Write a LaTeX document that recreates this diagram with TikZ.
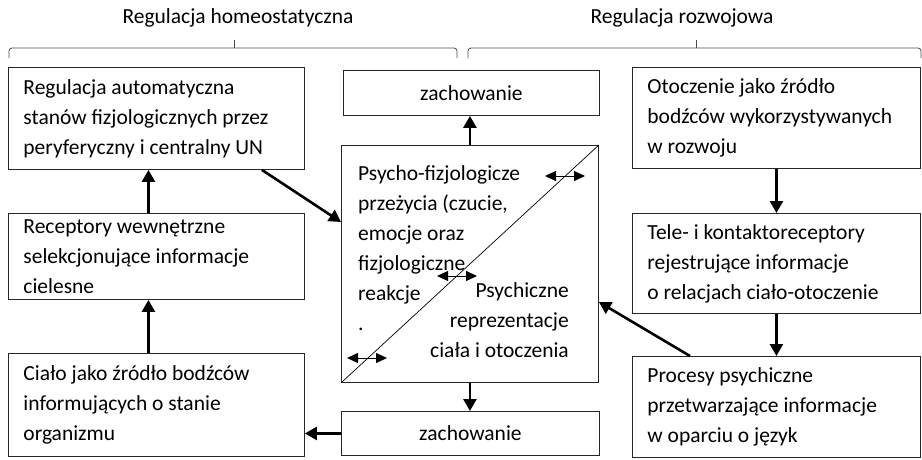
\documentclass[tikz,border=0pt]{standalone}
\usepackage{fontspec}
\setmainfont{Carlito}
\usetikzlibrary{arrows.meta,calc}
\begin{document}
\begin{tikzpicture}[x=1pt,y=-1pt,
  every node/.style={font=\fontsize{21.5pt}{30pt}\selectfont},
  box/.style={draw=black!85, line width=0.9pt, anchor=north west, inner xsep=15pt, inner ysep=0pt, align=flush left},
  actbox/.style={draw=black!85, line width=0.9pt, anchor=north west, inner sep=0pt, align=center},
  flow/.style={line width=2.6pt, -{Triangle[length=12pt,width=13pt]}},
  link/.style={line width=0.8pt, {Triangle[length=11pt,width=10pt]}-{Triangle[length=11pt,width=10pt]}},
  brace/.style={draw=black!70, line width=0.8pt, rounded corners=3pt},
  ]
\useasboundingbox (0,0) rectangle (922,459);

% headings and their brackets
\node (H1) at (238,18) {Regulacja homeostatyczna};
\node (H2) at (682,18) {Regulacja rozwojowa};
\draw[brace] (9,58) -- (9,48) -- (457,48) -- (457,58);
\draw[brace] (234,48) -- (234,40);
\draw[brace] (468,58) -- (468,48) -- (921,48) -- (921,58);
\draw[brace] (696,48) -- (696,40);

% left column
\node[box, text width=266pt, minimum height=102pt] (A) at (8,67)
  {Regulacja automatyczna\\stanów fizjologicznych przez\\peryferyczny i centralny UN};
\node[box, text width=266pt, minimum height=86pt] (B) at (8,213)
  {Receptory wewnętrzne\\selekcjonujące informacje\\cielesne};
\node[box, text width=266pt, minimum height=103pt] (C) at (8,353)
  {Ciało jako źródło bodźców\\informujących o stanie\\organizmu};

% right column
\node[box, text width=258pt, minimum height=101pt] (D) at (632,67)
  {Otoczenie jako źródło\\bodźców wykorzystywanych\\w rozwoju};
\node[box, text width=258pt, minimum height=100pt] (E) at (632,213)
  {Tele- i kontaktoreceptory\\rejestrujące informacje\\o relacjach ciało-otoczenie};
\node[box, text width=258pt, minimum height=101pt] (F) at (632,356)
  {Procesy psychiczne\\przetwarzające informacje\\w oparciu o język};

% middle column
\node[actbox, minimum width=256pt, minimum height=45pt] (Z1) at (343,70) {zachowanie};
\node[actbox, minimum width=258pt, minimum height=44pt] (Z2) at (341,411) {zachowanie};
\node[draw=black!85, line width=0.9pt, anchor=north west, inner sep=0pt,
      minimum width=257pt, minimum height=237pt] (M) at (341,145) {};
\draw[line width=0.7pt] (M.south west) -- (M.north east);
\node[anchor=north west, inner sep=0pt, align=flush left] (L) at (358,165)
  {Psycho-fizjologicze\\przeżycia (czucie,\\emocje oraz\\fizjologiczne\\reakcje\\.};
\node[anchor=north east, inner sep=0pt, align=flush right] (R) at (569,282)
  {Psychiczne\\reprezentacje\\ciała i otoczenia};

% two-way links across the diagonal
\coordinate (p1) at (565,176);
\coordinate (p2) at (457,276);
\coordinate (p3) at (367,358);
\draw[link] ([xshift=-20pt]p1) -- ([xshift=20pt]p1);
\draw[link] ([xshift=-20pt]p2) -- ([xshift=20pt]p2);
\draw[link] ([xshift=-20pt]p3) -- ([xshift=20pt]p3);

% flow arrows
\draw[flow] (M.north) -- (M.north |- Z1.south);
\draw[flow] (M.south) -- (M.south |- Z2.north);
\draw[flow] (Z2.west) -- (Z2.west -| C.east);
\draw[flow] ([xshift=-8pt]C.north) -- ([xshift=-8pt]C.north |- B.south);
\draw[flow] ([xshift=-8pt]B.north) -- ([xshift=-8pt]B.north |- A.south);
\draw[flow] ([xshift=-43pt]A.south east) -- ([yshift=-77pt]M.north west);
\draw[flow] (D.south) -- (E.north);
\draw[flow] (E.south) -- (F.north);
\draw[flow] ([xshift=58pt]F.north west) -- ([yshift=-157pt]M.north east);
\end{tikzpicture}
\end{document}
